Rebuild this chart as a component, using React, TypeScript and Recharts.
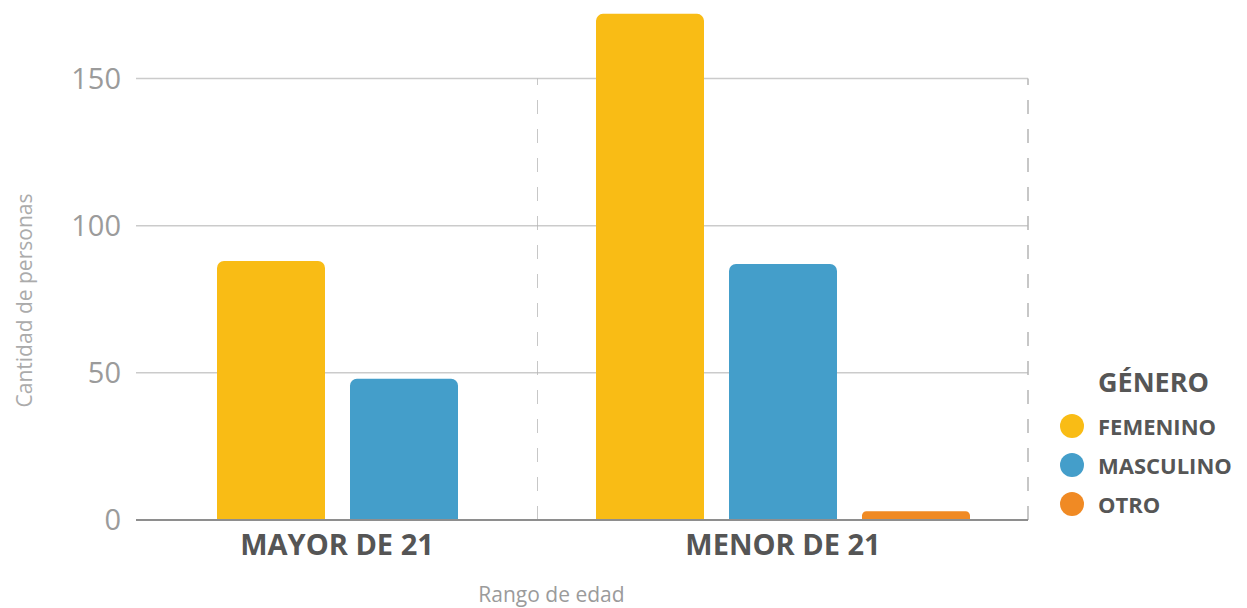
import { Bar, BarChart, CartesianGrid, Label, Legend, ReferenceLine, XAxis, YAxis } from "recharts";

const AGE_GROUPS = ["MAYOR DE 21", "MENOR DE 21"];
const FEMENINO: (number | null)[] = [88, 172];
const MASCULINO: (number | null)[] = [48, 87];
const OTRO: (number | null)[] = [null, 3];
const Y_TICKS = [0, 50, 100, 150];
const Y_MAX = 175;

const SERIES = [
  { key: "femenino", name: "FEMENINO", color: "#F9BC15", values: FEMENINO },
  { key: "masculino", name: "MASCULINO", color: "#449ECA", values: MASCULINO },
  { key: "otro", name: "OTRO", color: "#F08A24", values: OTRO },
];

const FONT = "'Open Sans', sans-serif";
const HEIGHT = 608;
const MARGIN_TOP = 5;
const MARGIN_BOTTOM = 28;
const X_AXIS_HEIGHT = 60;
const Y_AXIS_WIDTH = 136;

function GenderLegend({ payload }: { payload?: { value: string; color: string }[] }) {
  return (
    <div style={{ fontFamily: FONT, color: "#565656", fontWeight: 700 }}>
      <div style={{ fontSize: 27, lineHeight: "32px", marginLeft: 38, marginBottom: 8 }}>GÉNERO</div>
      {(payload ?? []).map((item) => (
        <div key={item.value} style={{ display: "flex", alignItems: "center", height: 39 }}>
          <span
            style={{ width: 24, height: 24, borderRadius: "50%", background: item.color, display: "inline-block" }}
          />
          <span style={{ fontSize: 22, marginLeft: 14 }}>{item.value}</span>
        </div>
      ))}
    </div>
  );
}

function AxisTitle({ viewBox }: any) {
  const cx = viewBox.x + 24;
  const cy = viewBox.y + viewBox.height / 2 + 38;
  return (
    <text
      x={cx}
      y={cy}
      transform={`rotate(-90 ${cx} ${cy})`}
      textAnchor="middle"
      dominantBaseline="central"
      fill="#ababab"
      fontSize={21}
      fontFamily={FONT}
    >
      Cantidad de personas
    </text>
  );
}

// horizontal grid only at the labelled ticks, not along the top of the plot
const tickRows = ({ offset }: any) =>
  Y_TICKS.map((t) => offset.top + offset.height * (1 - t / Y_MAX));

// one panel per age group; only series with a value get a slot in the group
function AgePanel({ index, width, marginRight, withYAxis, withLegend }: {
  index: number;
  width: number;
  marginRight: number;
  withYAxis: boolean;
  withLegend: boolean;
}) {
  const group = AGE_GROUPS[index];
  const row: Record<string, string | number | null> = { group };
  SERIES.forEach((s) => (row[s.key] = s.values[index]));
  const present = SERIES.filter((s) => s.values[index] != null);

  return (
    <BarChart
      width={width}
      height={HEIGHT}
      data={[row]}
      barGap={25}
      margin={{ top: MARGIN_TOP, right: marginRight, bottom: MARGIN_BOTTOM, left: 0 }}
    >
      <CartesianGrid
        vertical={false}
        stroke="#cbcbcb"
        strokeWidth={1.5}
        horizontalCoordinatesGenerator={tickRows}
      />
      <XAxis
        dataKey="group"
        height={X_AXIS_HEIGHT}
        tickLine={false}
        tickMargin={8}
        axisLine={{ stroke: "#8e8e8e", strokeWidth: 2 }}
        tick={{ fill: "#555555", fontSize: 29, fontWeight: 700, fontFamily: FONT }}
      />
      <YAxis
        domain={[0, Y_MAX]}
        ticks={Y_TICKS}
        hide={!withYAxis}
        width={Y_AXIS_WIDTH}
        axisLine={false}
        tickLine={false}
        tickMargin={9}
        tick={{ fill: "#9b9b9b", fontSize: 29, fontFamily: FONT }}
      >
        {withYAxis && <Label content={<AxisTitle />} />}
      </YAxis>
      <ReferenceLine
        segment={[
          { x: group, y: 0 },
          { x: group, y: Y_TICKS[Y_TICKS.length - 1] },
        ]}
        position="end"
        ifOverflow="visible"
        stroke="#b5b5b5"
        strokeWidth={1.5}
        strokeDasharray="14 15"
      />
      {present.map((s) => (
        <Bar
          key={s.key}
          dataKey={s.key}
          name={s.name}
          fill={s.color}
          barSize={108}
          radius={[7, 7, 0, 0]}
          isAnimationActive={false}
        />
      ))}
      {withLegend && (
        <Legend
          layout="vertical"
          align="center"
          verticalAlign="middle"
          wrapperStyle={{ left: 522, top: 366, width: 200 }}
          content={<GenderLegend />}
        />
      )}
    </BarChart>
  );
}

export default function App() {
  return (
    <div style={{ position: "absolute", left: 0, top: 0, width: 1247, height: HEIGHT, background: "#fff" }}>
      <div style={{ position: "absolute", left: 0, top: 0 }}>
        <AgePanel index={0} width={538} marginRight={0} withYAxis withLegend={false} />
      </div>
      <div style={{ position: "absolute", left: 538, top: 0 }}>
        <AgePanel index={1} width={709} marginRight={219} withYAxis={false} withLegend />
      </div>
      <div
        style={{
          position: "absolute",
          left: 0,
          top: 580,
          width: 1103,
          textAlign: "center",
          fontFamily: FONT,
          fontSize: 21,
          color: "#9b9b9b",
        }}
      >
        Rango de edad
      </div>
    </div>
  );
}
